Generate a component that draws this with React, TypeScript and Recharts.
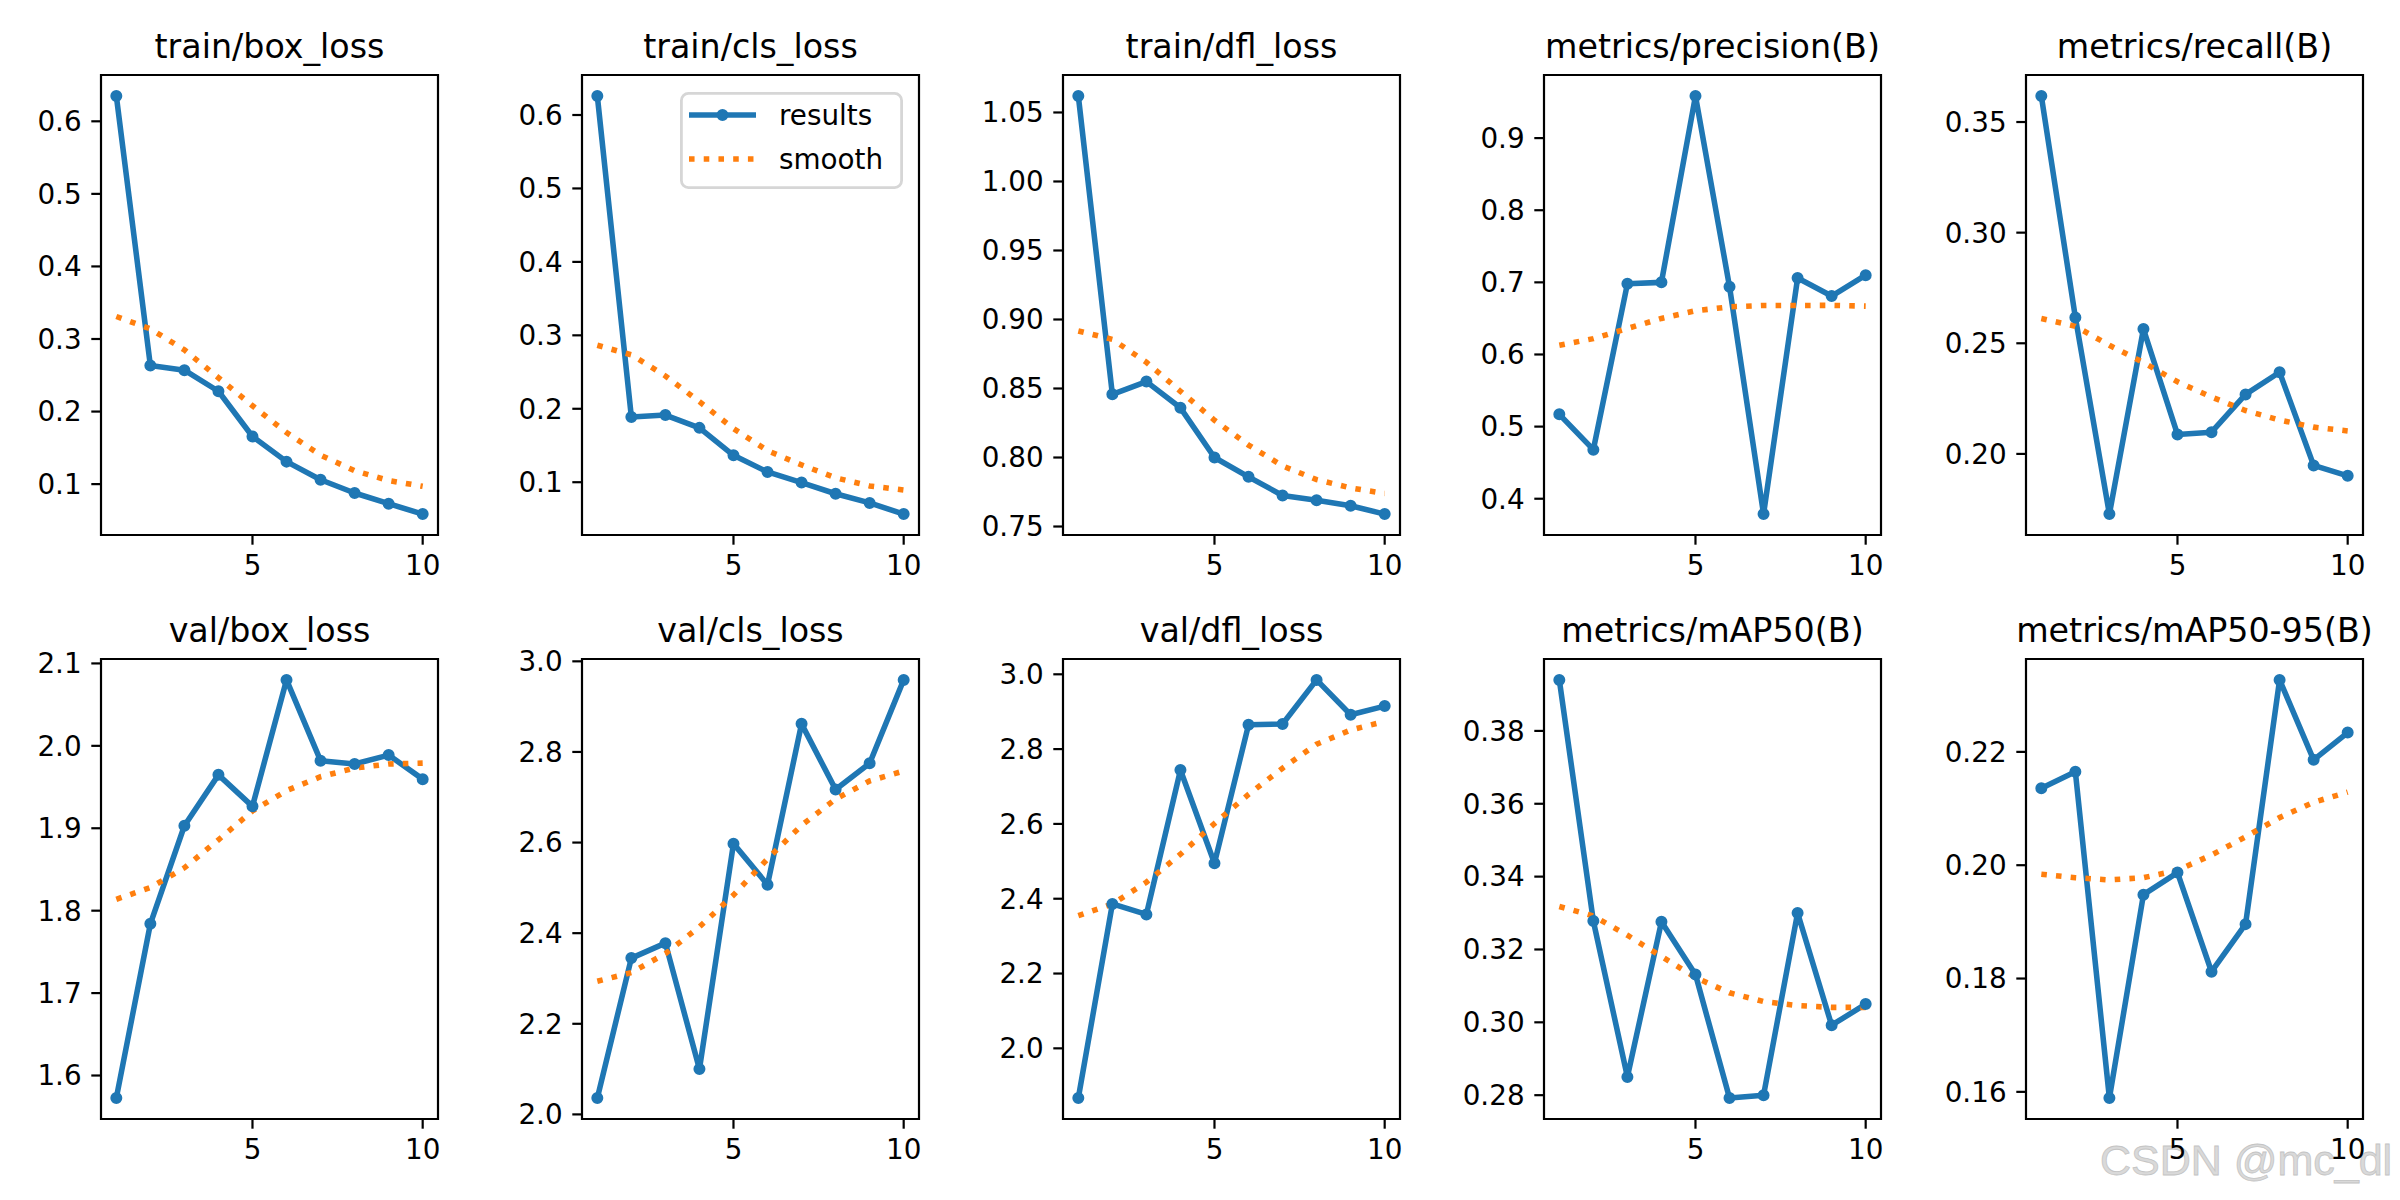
import React from 'react';
import { LineChart, Line, XAxis, YAxis, ReferenceArea, Legend } from 'recharts';

const epochs = [1, 2, 3, 4, 5, 6, 7, 8, 9, 10];

const trainBoxLoss = [0.635, 0.2635, 0.257, 0.228, 0.1656, 0.131, 0.106, 0.0878, 0.073, 0.0587];
const trainBoxSmooth = [0.331, 0.314, 0.285, 0.2466, 0.208, 0.171, 0.14, 0.1185, 0.105, 0.097];
const trainBoxTicks = [0.1, 0.2, 0.3, 0.4, 0.5, 0.6];

const trainClsLoss = [0.626, 0.1888, 0.1914, 0.174, 0.1366, 0.114, 0.0995, 0.0843, 0.0718, 0.0566];
const trainClsSmooth = [0.2865, 0.2735, 0.2447, 0.2097, 0.173, 0.143, 0.1235, 0.106, 0.095, 0.0895];
const trainClsTicks = [0.1, 0.2, 0.3, 0.4, 0.5, 0.6];

const trainDflLoss = [1.062, 0.8458, 0.855, 0.836, 0.8, 0.786, 0.7725, 0.769, 0.765, 0.759];
const trainDflSmooth = [0.8917, 0.8856, 0.869, 0.848, 0.827, 0.809, 0.7939, 0.784, 0.778, 0.774];
const trainDflTicks = [0.75, 0.8, 0.85, 0.9, 0.95, 1.0, 1.05];

const precision = [0.517, 0.468, 0.698, 0.7, 0.9585, 0.694, 0.3787, 0.706, 0.681, 0.71];
const precisionSmooth = [0.6128, 0.622, 0.636, 0.65, 0.6606, 0.666, 0.668, 0.668, 0.6681, 0.667];
const precisionTicks = [0.4, 0.5, 0.6, 0.7, 0.8, 0.9];

const recall = [0.3618, 0.2617, 0.1728, 0.2564, 0.2088, 0.2098, 0.2269, 0.2369, 0.1948, 0.1901];
const recallSmooth = [0.2612, 0.2577, 0.2491, 0.2413, 0.2326, 0.2257, 0.2196, 0.2153, 0.2121, 0.2104];
const recallTicks = [0.2, 0.25, 0.3, 0.35];

const valBoxLoss = [1.5726, 1.784, 1.903, 1.9648, 1.9266, 2.08, 1.982, 1.978, 1.9888, 1.9596];
const valBoxSmooth = [1.8138, 1.828, 1.852, 1.886, 1.921, 1.9457, 1.9625, 1.973, 1.978, 1.979];
const valBoxTicks = [1.6, 1.7, 1.8, 1.9, 2.0, 2.1];

const valClsLoss = [2.036, 2.345, 2.378, 2.1, 2.5976, 2.507, 2.862, 2.717, 2.775, 2.959];
const valClsSmooth = [2.294, 2.313, 2.355, 2.414, 2.484, 2.564, 2.638, 2.696, 2.736, 2.758];
const valClsTicks = [2.0, 2.2, 2.4, 2.6, 2.8, 3.0];

const valDflLoss = [1.867, 2.386, 2.358, 2.744, 2.495, 2.865, 2.867, 2.985, 2.892, 2.915];
const valDflSmooth = [2.355, 2.386, 2.444, 2.519, 2.601, 2.679, 2.749, 2.813, 2.851, 2.874];
const valDflTicks = [2.0, 2.2, 2.4, 2.6, 2.8, 3.0];

const mAP50 = [0.394, 0.3278, 0.285, 0.3276, 0.3131, 0.2792, 0.28, 0.33, 0.2992, 0.305];
const mAP50Smooth = [0.3318, 0.3292, 0.3239, 0.3181, 0.3123, 0.3081, 0.3057, 0.3046, 0.3041, 0.3041];
const mAP50Ticks = [0.28, 0.3, 0.32, 0.34, 0.36, 0.38];

const mAP5095 = [0.2136, 0.2165, 0.1589, 0.1948, 0.1987, 0.1812, 0.1896, 0.2327, 0.2186, 0.2234];
const mAP5095Smooth = [0.1984, 0.1978, 0.1974, 0.1978, 0.1991, 0.2018, 0.205, 0.2084, 0.2111, 0.2129];
const mAP5095Ticks = [0.16, 0.18, 0.2, 0.22];

const xTicks = [5, 10];

const panels = [
  { title: 'train/box_loss', results: trainBoxLoss, smooth: trainBoxSmooth, ticks: trainBoxTicks, dec: 1 },
  { title: 'train/cls_loss', results: trainClsLoss, smooth: trainClsSmooth, ticks: trainClsTicks, dec: 1, legend: true },
  { title: 'train/dfl_loss', results: trainDflLoss, smooth: trainDflSmooth, ticks: trainDflTicks, dec: 2 },
  { title: 'metrics/precision(B)', results: precision, smooth: precisionSmooth, ticks: precisionTicks, dec: 1 },
  { title: 'metrics/recall(B)', results: recall, smooth: recallSmooth, ticks: recallTicks, dec: 2 },
  { title: 'val/box_loss', results: valBoxLoss, smooth: valBoxSmooth, ticks: valBoxTicks, dec: 1 },
  { title: 'val/cls_loss', results: valClsLoss, smooth: valClsSmooth, ticks: valClsTicks, dec: 1 },
  { title: 'val/dfl_loss', results: valDflLoss, smooth: valDflSmooth, ticks: valDflTicks, dec: 1 },
  { title: 'metrics/mAP50(B)', results: mAP50, smooth: mAP50Smooth, ticks: mAP50Ticks, dec: 2 },
  { title: 'metrics/mAP50-95(B)', results: mAP5095, smooth: mAP5095Smooth, ticks: mAP5095Ticks, dec: 2 },
];

const COL_LEFTS = [101, 582, 1063, 1544, 2026];
const ROW_TOPS = [75, 659];
const PW = 337;
const PH = 460;
const YW = 90;
const MT = 30;
const MR = 10;
const XH = 60;
const X_DOMAIN: [number, number] = [0.55, 10.45];
const FONT = 'DejaVu Sans';
const BLUE = '#1f77b4';
const ORANGE = '#ff7f0e';
const LW = 5.56;

const LegendContent = (props: any) => {
  const payload = (props && props.payload) || [];
  const items = payload.length
    ? payload
    : [
        { value: 'results', color: BLUE },
        { value: 'smooth', color: ORANGE },
      ];
  return (
    <svg width={223} height={97} style={{ display: 'block' }}>
      <rect x={1.4} y={1.4} width={220.2} height={94.2} rx={7} fill="#fff" fillOpacity={0.8} stroke="#d6d6d6" strokeWidth={2.8} />
      {items.map((it: any, i: number) => {
        const cy = 23 + i * 44;
        const isSmooth = i === 1;
        return (
          <g key={i}>
            <line
              x1={9}
              x2={76}
              y1={cy}
              y2={cy}
              stroke={it.color}
              strokeWidth={LW}
              strokeDasharray={isSmooth ? '5.56 9.17' : undefined}
            />
            {!isSmooth && <circle cx={42.5} cy={cy} r={4.8} fill={it.color} stroke={it.color} strokeWidth={2.4} />}
            <text x={99} y={cy + 10} fontSize={27.8} fontFamily={FONT} fill="#000">
              {it.value}
            </text>
          </g>
        );
      })}
    </svg>
  );
};

function Panel({ p, left, top }: { p: any; left: number; top: number }) {
  const rows = epochs.map((e, i) => ({ epoch: e, results: p.results[i], smooth: p.smooth[i] }));
  const all = [...p.results, ...p.smooth];
  const lo = Math.min(...all);
  const hi = Math.max(...all);
  const pad = (hi - lo) * 0.05;
  const yDomain: [number, number] = [lo - pad, hi + pad];
  const tickStyle = { fill: '#000', fontSize: 27.8, fontFamily: FONT };
  return (
    <div style={{ position: 'absolute', left: left - YW, top: top - MT }}>
      <LineChart
        width={YW + PW + MR}
        height={MT + PH + XH}
        data={rows}
        margin={{ top: MT, right: MR, left: 0, bottom: 0 }}
        style={{ overflow: 'visible' }}
      >
        <XAxis
          dataKey="epoch"
          type="number"
          domain={X_DOMAIN}
          ticks={xTicks}
          axisLine={false}
          tickLine={{ stroke: '#000', strokeWidth: 2.2 }}
          tickSize={9.7}
          tickMargin={11}
          tick={tickStyle}
          height={XH}
          interval={0}
        />
        <YAxis
          type="number"
          domain={yDomain}
          ticks={p.ticks}
          axisLine={false}
          tickLine={{ stroke: '#000', strokeWidth: 2.2 }}
          tickSize={9.7}
          tickMargin={9.7}
          tick={tickStyle}
          width={YW}
          interval={0}
          tickFormatter={(v: number) => v.toFixed(p.dec)}
        />
        <Line
          type="linear"
          dataKey="results"
          name="results"
          stroke={BLUE}
          strokeWidth={LW}
          strokeLinejoin="round"
          dot={{ r: 4.8, fill: BLUE, stroke: BLUE, strokeWidth: 2.4 }}
          activeDot={false}
          isAnimationActive={false}
        />
        <Line
          type="linear"
          dataKey="smooth"
          name="smooth"
          stroke={ORANGE}
          strokeWidth={LW}
          strokeDasharray="5.56 9.17"
          dot={false}
          activeDot={false}
          isAnimationActive={false}
        />
        <ReferenceArea
          x1={X_DOMAIN[0]}
          x2={X_DOMAIN[1]}
          y1={yDomain[0]}
          y2={yDomain[1]}
          fill="none"
          fillOpacity={0}
          stroke="#000"
          strokeWidth={2.2}
          ifOverflow="visible"
        />
        {p.legend && (
          <Legend
            layout="vertical"
            align="center"
            verticalAlign="middle"
            content={<LegendContent />}
            wrapperStyle={{ position: 'absolute', left: 188, top: 17 + MT, width: 223, height: 97 }}
          />
        )}
      </LineChart>
    </div>
  );
}

export default function App() {
  return (
    <div style={{ position: 'absolute', left: 0, top: 0, width: 2400, height: 1200, background: '#fff', overflow: 'hidden' }}>
      <svg width={2400} height={1200} style={{ position: 'absolute', left: 0, top: 0 }}>
        {panels.map((p, i) => {
          const left = COL_LEFTS[i % 5];
          const top = ROW_TOPS[Math.floor(i / 5)];
          return (
            <text
              key={i}
              x={left + PW / 2}
              y={top - 16.7}
              textAnchor="middle"
              fontSize={33.3}
              fontFamily={FONT}
              fill="#000"
            >
              {p.title}
            </text>
          );
        })}
        <text
          x={2100}
          y={1175}
          fontSize={43}
          fontFamily="Liberation Sans"
          fill="#d9d9d9"
          stroke="#c4c4c4"
          strokeWidth={0.8}
        >
          CSDN @mc_dl
        </text>
      </svg>
      {panels.map((p, i) => (
        <Panel key={i} p={p} left={COL_LEFTS[i % 5]} top={ROW_TOPS[Math.floor(i / 5)]} />
      ))}
    </div>
  );
}
